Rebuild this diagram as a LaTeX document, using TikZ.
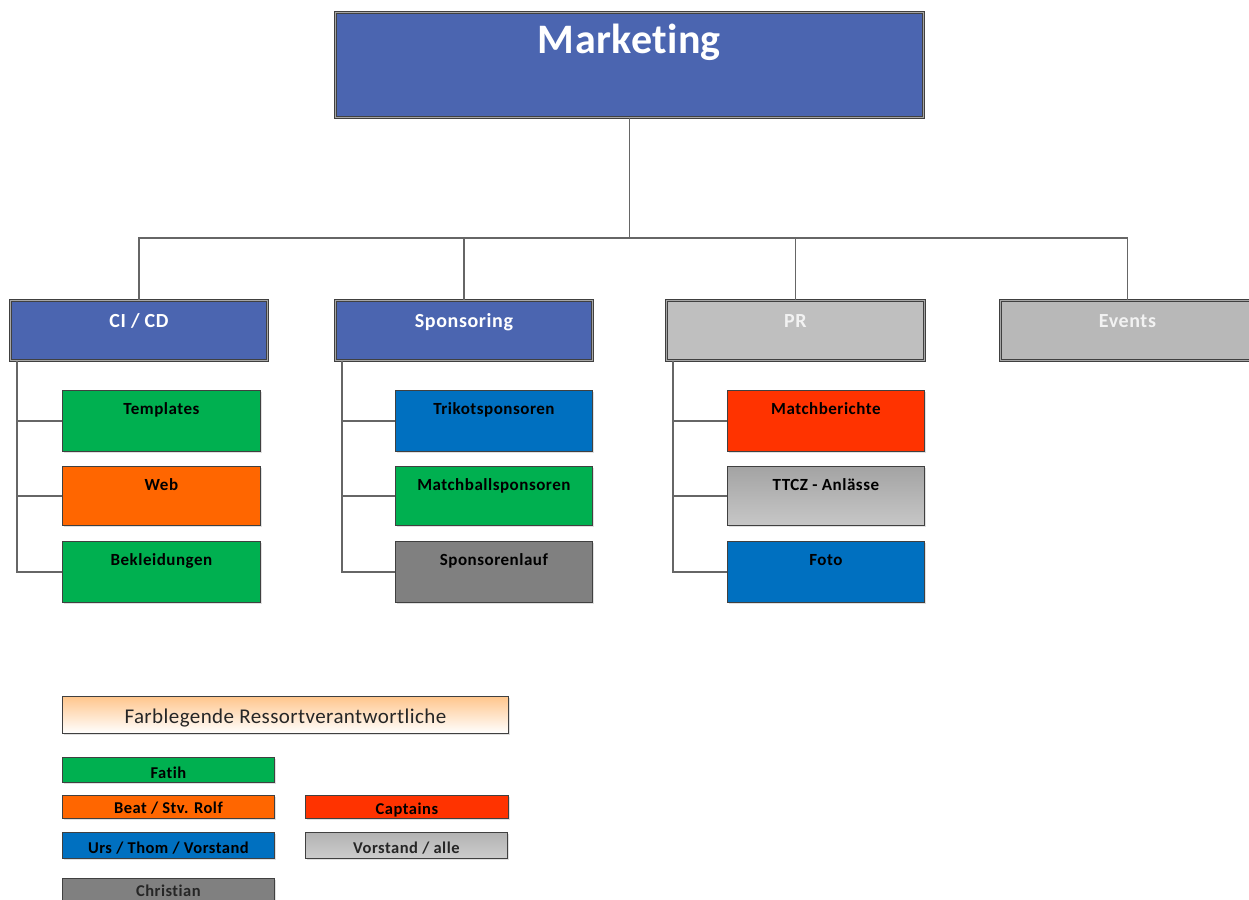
\documentclass[tikz,border=0pt]{standalone}
\usepackage{fontspec}
\setmainfont{Carlito}[Ligatures=NoCommon]
\newfontfamily\spaced{Carlito}[Ligatures=NoCommon, LetterSpace=3]
\newfontfamily\spacedb{Carlito}[Ligatures=NoCommon, LetterSpace=2]
\newfontfamily\spacedm{Carlito}[Ligatures=NoCommon, LetterSpace=1]
\usetikzlibrary{shadows,calc}
\definecolor{hdrblue}{HTML}{4B65B0}
\definecolor{cgreen}{HTML}{00B050}
\definecolor{corange}{HTML}{FF6600}
\definecolor{cred}{HTML}{FF3300}
\definecolor{cblue}{HTML}{0070C0}
\definecolor{cgray}{HTML}{808080}
\definecolor{clgray}{HTML}{BFBFBF}
\definecolor{cborder}{HTML}{404040}
\definecolor{cline}{HTML}{666666}
\tikzset{
  shad/.style={drop shadow={shadow xshift=2pt,shadow yshift=-2pt,fill=black!20,opacity=0.6}},
  hdr/.style={rectangle, anchor=north west, inner sep=0pt, draw=cborder, line width=0.9pt,
     double=black!35, double distance=1.4pt, shad, text=white,
     font=\spaced\fontsize{20}{22}\selectfont\bfseries},
  childbox/.style={rectangle, anchor=north west, inner sep=0pt, draw=cborder, line width=0.8pt,
     shad, text=black, minimum width=198pt, text height=24pt, text depth=37pt,
     font=\spaced\fontsize{17}{19}\selectfont\bfseries},
  legbox/.style={rectangle, anchor=north west, inner sep=0pt, draw=cborder, line width=0.8pt,
     shad, text=black, font=\spaced\fontsize{16.5}{18}\selectfont\bfseries},
  conn/.style={draw=cline, line width=1.6pt},
}
\begin{document}
\begin{tikzpicture}[x=1pt,y=-1pt]
\useasboundingbox (0,0) rectangle (1249,899);
\clip (0,0) rectangle (1249,899);
% top
\node[hdr, fill=hdrblue, minimum width=588pt, text height=41pt, text depth=64pt,
      font=\spacedm\fontsize{42}{46}\selectfont\bfseries] (mkt) at (335,12) {Marketing};
% level 2
\node[hdr, fill=hdrblue, minimum width=257pt, text height=27pt, text depth=33pt] (ci) at (10,300) {CI / CD};
\node[hdr, fill=hdrblue, minimum width=257pt, text height=27pt, text depth=33pt] (sp) at (335,300) {Sponsoring};
\node[hdr, fill=clgray, minimum width=258pt, text height=27pt, text depth=33pt, text=white!95!black] (pr) at (666,300) {PR};
\node[hdr, fill=black!28, minimum width=254pt, text height=27pt, text depth=33pt, text=white!95!black] (ev) at (1000,300) {Events};
% connectors top
\draw[conn] (mkt.south) -- ++(0,120) -| (ci.north);
\draw[conn] (mkt.south) -- ++(0,120) -| (sp.north);
\draw[conn] (mkt.south) -- ++(0,120) -| (pr.north);
\draw[conn] (mkt.south) -- ++(0,120) -| (ev.north);
% children CI/CD
\node[childbox, fill=cgreen] (tpl) at (62,390) {Templates};
\node[childbox, fill=corange, text depth=35pt] (web) at (62,466) {Web};
\node[childbox, fill=cgreen] (bek) at (62,541) {Bekleidungen};
% children Sponsoring
\node[childbox, fill=cblue, minimum width=197pt] (tri) at (395,390) {Trikotsponsoren};
\node[childbox, fill=cgreen, minimum width=197pt, text depth=35pt] (mbs) at (395,466) {Matchballsponsoren};
\node[childbox, fill=cgray, minimum width=197pt] (spl) at (395,541) {Sponsorenlauf};
% children PR
\node[childbox, top color=black!36, bottom color=black!22, minimum width=197pt, text depth=35pt] (ttcz) at (727,466) {TTCZ - Anlässe};
\node[childbox, fill=cred, minimum width=197pt] (mb) at (727,390) {Matchberichte};
\node[childbox, fill=cblue, minimum width=197pt] (foto) at (727,541) {Foto};
% child connectors
\foreach \p/\c in {ci/tpl,ci/web,ci/bek,sp/tri,sp/mbs,sp/spl,pr/mb,pr/ttcz,pr/foto}{
  \draw[conn] ($(\p.south west)+(7,0)$) |- (\c.west);
}
% legend
\node[legbox, top color=orange!45!white, bottom color=white, minimum width=446pt,
      text height=27pt, text depth=10pt, font=\spacedb\fontsize{21}{23}\selectfont, text=black!85] (leg) at (62,696) {Farblegende Ressortverantwortliche};
\node[legbox, fill=cgreen, minimum width=212pt, text height=21pt, text depth=4pt] (l1) at (62,757) {Fatih};
\node[legbox, fill=corange, minimum width=212pt, text height=18.5pt, text depth=4.5pt] (l2) at (62,795) {Beat / Stv. Rolf};
\node[legbox, fill=cred, minimum width=203pt, text height=19pt, text depth=4pt] (l3) at (305,795) {Captains};
\node[legbox, fill=cblue, minimum width=212pt, text height=21pt, text depth=5pt] (l4) at (62,832) {Urs / Thom / Vorstand};
\node[legbox, top color=black!30, bottom color=black!20, minimum width=202pt, text height=21pt, text depth=5pt, text=black!85] (l5) at (305,832) {Vorstand / alle};
\node[legbox, fill=cgray, minimum width=212pt, text height=18pt, text depth=8pt, text=black!85] (l6) at (62,878) {Christian};
\end{tikzpicture}
\end{document}
